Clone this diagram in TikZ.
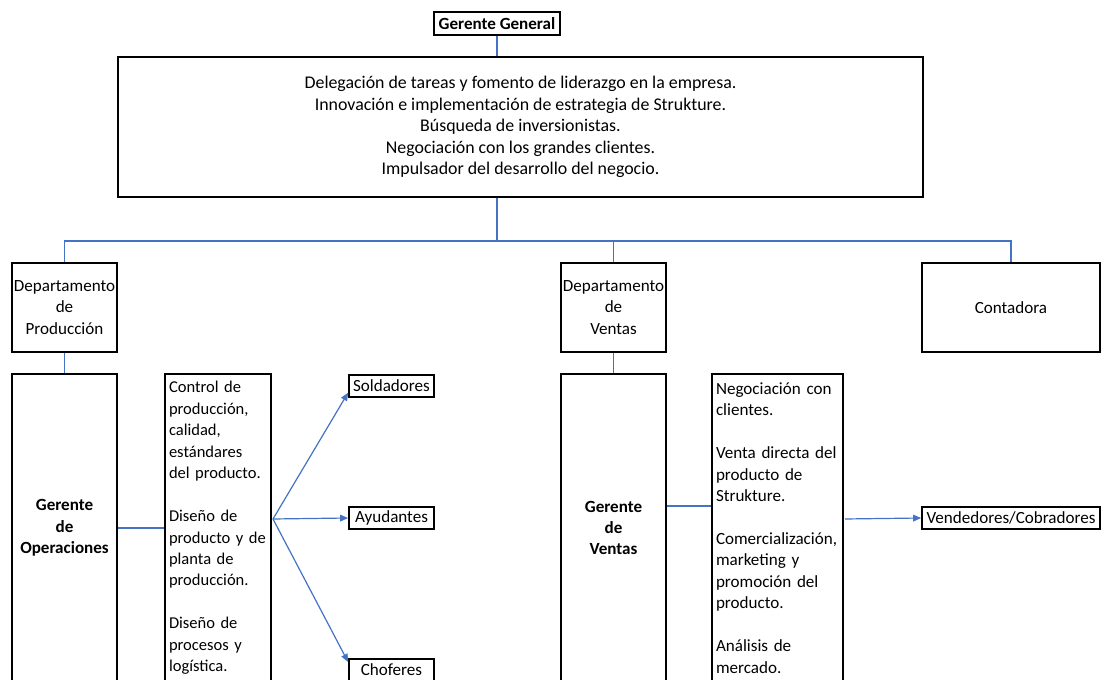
\documentclass[tikz,border=0pt]{standalone}
\usepackage{fontspec}
\setmainfont{Carlito}
\usetikzlibrary{arrows.meta}
\definecolor{linkblue}{RGB}{68,114,196}
\begin{document}
\begin{tikzpicture}[x=0.75pt, y=-0.75pt, every node/.style={font=\fontsize{12.8}{16.1}\selectfont},
  box/.style={draw,line width=1.3pt,inner sep=0pt,align=center},
  negrita/.style={font=\fontsize{12.8}{16.1}\selectfont\bfseries},
  lista/.style={draw,line width=1.3pt,inner xsep=3pt,inner ysep=0pt,align=left},
  link/.style={draw=linkblue,line width=0.9pt},
  flecha/.style={link,-{Triangle[length=6pt,width=5pt]}}]
\clip (0,0) rectangle (1101,680);
\node[box,negrita,minimum width=94.5pt,minimum height=17.25pt] (gg) at (497,23.5) {Gerente General};
\node[box,font=\fontsize{13.4}{16.1}\selectfont,minimum width=603.75pt,minimum height=105pt] (tareas) at (520.5,127) {Delegación de tareas y fomento de liderazgo en la empresa.\\ Innovación e implementación de estrategia de Strukture.\\ Búsqueda de inversionistas.\\ Negociación con los grandes clientes.\\ Impulsador del desarrollo del negocio.};
\node[box,minimum width=78.75pt,minimum height=66.75pt] (dp) at (64.5,307.5) {Departamento\\ de\\ Producción};
\node[box,minimum width=78.75pt,minimum height=66.75pt] (dv) at (613.5,307.5) {Departamento\\ de\\ Ventas};
\node[box,minimum width=133.5pt,minimum height=66.75pt] (dc) at (1011,307.5) {Contadora};
% produccion
\node[box,negrita,minimum width=78.75pt,minimum height=231pt] (go) at (64.5,528) {Gerente\\ de\\ Operaciones};
\node[lista,font=\fontsize{12.4}{16.1}\selectfont,text width=73.5pt,minimum height=231pt] (op) at (218,528) {Control de\\ producción,\\ calidad,\\ estándares\\ del producto.\\[16.1pt] Diseño de\\ producto y de\\ planta de\\ producción.\\[16.1pt] Diseño de\\ procesos y\\ logística.};
\node[box,minimum width=63.75pt,minimum height=16.5pt] (sol) at (391.5,386) {Soldadores};
\node[box,minimum width=63.75pt,minimum height=16.5pt] (ayu) at (391.5,518) {Ayudantes};
\node[box,minimum width=63.75pt,minimum height=16.5pt] (cho) at (391.5,670) {Choferes};
% ventas
\node[box,negrita,minimum width=78.75pt,minimum height=231pt] (gv) at (613.5,528) {Gerente\\ de\\ Ventas};
\node[lista,text width=92.25pt,minimum height=231pt] (vt) at (777.5,528) {Negociación con\\ clientes.\\[16.1pt] Venta directa del\\ producto de\\ Strukture.\\[16.1pt] Comercialización,\\ marketing y\\ promoción del\\ producto.\\[16.1pt] Análisis de\\ mercado.};
\node[box,minimum width=133.5pt,minimum height=16.5pt] (ven) at (1011,518) {Vendedores/Cobradores};
% conectores
\coordinate (bus) at (497,241);
\coordinate (bif) at (273,519);
\coordinate (sal) at (845,519);
\draw[link] (gg) -- (tareas.north -| gg.south);
\draw[link] (tareas.south -| gg.south) -- (bus);
\draw[link] (dp.north) -- (dp.north |- bus) -- (dc.north |- bus) -- (dc.north);
\draw[link] (dv.north) -- (dv.north |- bus);
\draw[link] (dp) -- (go);
\draw[link] (dv) -- (gv);
\draw[link] (go) -- (op);
\draw[link] ([yshift=16.5pt]gv.east) -- ([yshift=16.5pt]vt.west);
\draw[flecha] (bif) -- ([yshift=-5pt]sol.west);
\draw[flecha] (bif) -- (ayu.west);
\draw[flecha] (bif) -- ([yshift=6pt]cho.west);
\draw[flecha] (sal) -- (ven.west);
\end{tikzpicture}
\end{document}
